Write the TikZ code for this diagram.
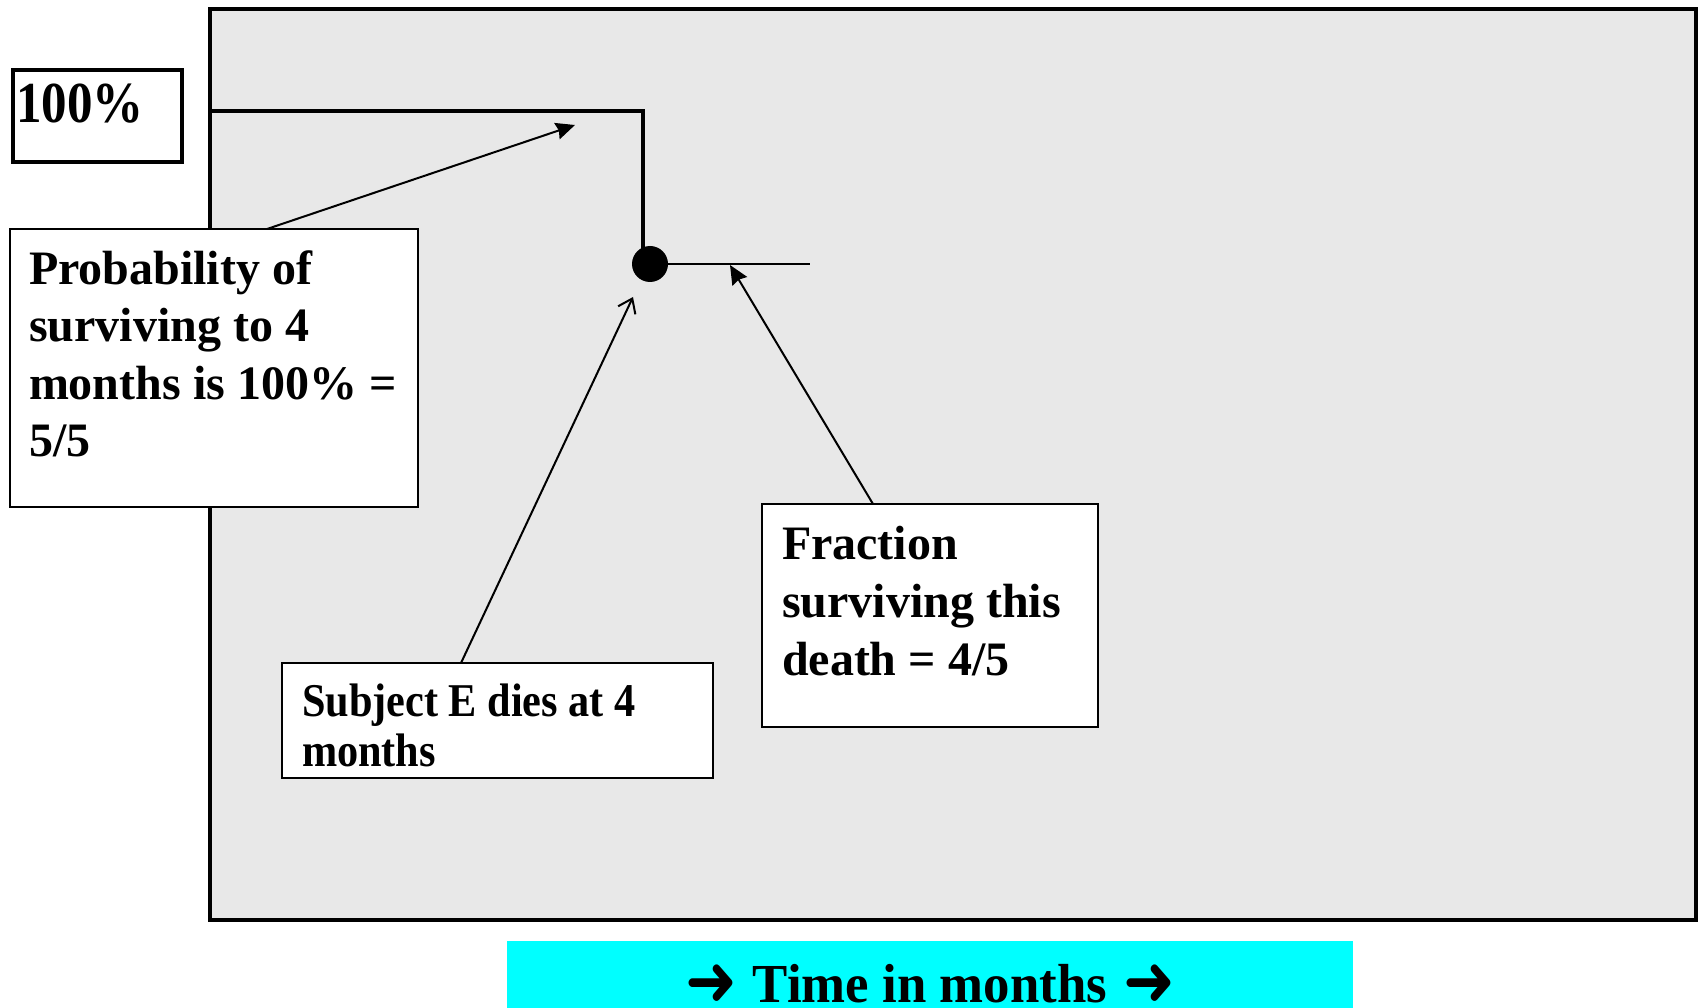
\documentclass[tikz,border=0pt]{standalone}
\usepackage{fontspec}
\usepackage{graphicx}
\setmainfont{Liberation Serif}
\newfontfamily\arrowfont{DejaVu Sans}
\usetikzlibrary{arrows.meta,calc}

\definecolor{plotgray}{HTML}{E8E8E8}
\definecolor{axiscyan}{HTML}{00FFFF}

% Box body: width, height, first baseline below top, left pad, font size, baselineskip, text
\newcommand\notetext[7]{%
  \parbox[c][#2][t]{#1}{\raggedright\fontsize{#5}{#6}\selectfont\bfseries
    \leftskip=#4\relax
    \vspace*{\dimexpr#3-#6\relax}\mbox{}\par
    #7}}
% heavy arrow used around the axis caption
\newcommand\axisarrow{\raisebox{-3pt}{\scalebox{1}[1.15]{\arrowfont\mdseries\fontsize{62pt}{62pt}\selectfont ➜}}}

\tikzset{
  note/.style={draw=black, line width=1.8pt, fill=white, inner sep=0pt,
    outer sep=0pt, anchor=north west},
  km/.style={line width=3.4pt, line cap=rect},
  pointer/.style={line width=2pt, -{Stealth[length=19pt, width=17pt, inset=2pt]}},
  openpointer/.style={line width=2pt, -{Straight Barb[length=13pt, width=19pt]}},
}

\begin{document}
\begin{tikzpicture}[x=1pt, y=-1pt]
  \useasboundingbox (0,0) rectangle (1701,1008);

  % plotting area
  \node[draw=black, line width=4pt, fill=plotgray, inner sep=0pt, outer sep=0pt,
        anchor=north west, minimum width=1486pt, minimum height=911pt] (plot) at (210,9) {};

  % time axis caption
  \node[fill=axiscyan, inner sep=0pt, outer sep=0pt, anchor=north west] (axis) at (507,941)
    {\parbox[c][67pt][t]{846pt}{\centering\fontsize{55pt}{60pt}\selectfont\bfseries
      \vspace*{\dimexpr61pt-60pt\relax}\mbox{}\par
      \axisarrow\hspace{16pt}\scalebox{0.96}[1]{Time in months}\hspace{16pt}\axisarrow}};

  % y-axis label
  \node[note, line width=3.2pt] (hundred) at (13,70)
    {\notetext{169pt}{92pt}{53pt}{3pt}{58pt}{60pt}{\scalebox{0.88}[1]{100\%}}};

  % survival step
  \coordinate (start) at (210,111);
  \coordinate (corner) at (643,111);
  \coordinate (deathpt) at (650,264);
  \coordinate (tail) at (810,264);
  \draw[km] (start) -- (corner) -- (corner |- deathpt);
  \draw[line width=2pt] (deathpt) -- (tail);
  \node[circle, fill=black, inner sep=0pt, minimum size=36pt] (death) at (deathpt) {};

  % annotation boxes
  \node[note] (prob) at (10,229)
    {\notetext{408pt}{278pt}{55pt}{19pt}{48pt}{57.5pt}{Probability of\\
      surviving to 4\\ months is 100\% =\\ 5/5}};
  \node[note] (subj) at (282,663)
    {\notetext{431pt}{115pt}{53pt}{20pt}{47pt}{50pt}{\scalebox{0.9}[1]{Subject E dies at 4}\\
      \scalebox{0.9}[1]{months}}};
  \node[note] (frac) at (762,504)
    {\notetext{336pt}{223pt}{55pt}{20pt}{48pt}{58pt}{Fraction\\ surviving this\\ death = 4/5}};

  % pointers
  \coordinate (probtip) at (575,125);
  \coordinate (subjtip) at (633,297);
  \coordinate (fractip) at (730,265);
  \draw[pointer] ($(prob.north west)+(257,0)$) -- (probtip);
  \draw[openpointer] ($(subj.north west)+(179,0)$) -- (subjtip);
  \draw[pointer] ($(frac.north west)+(111,0)$) -- (fractip);
\end{tikzpicture}
\end{document}
